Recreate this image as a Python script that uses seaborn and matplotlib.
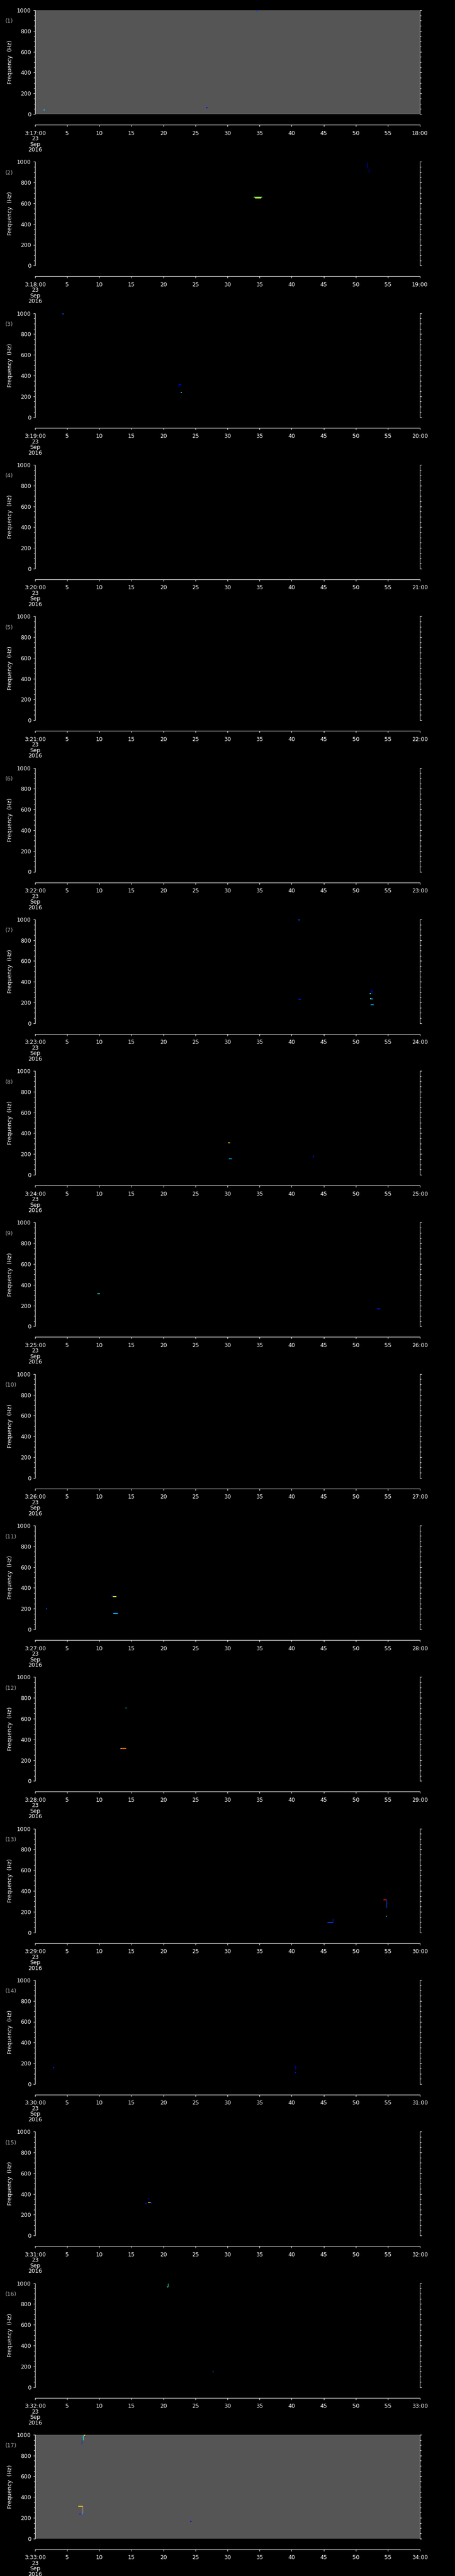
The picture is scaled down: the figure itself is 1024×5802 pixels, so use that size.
import matplotlib
matplotlib.use("Agg")
import matplotlib.pyplot as plt
from matplotlib.ticker import MultipleLocator
import seaborn as sns
import pandas as pd

# 17 one-minute spectrogram strips, 23 Sep 2016, 3:17 - 3:34
n_panels = 17
start_minutes = list(range(17, 34))
tick_seconds = list(range(0, 61, 5))
freq_ticks = [0, 200, 400, 600, 800, 1000]
no_data_panels = [1, 17]   # drawn on grey

# isolated pixels: panel, second, Hz, level (0-1 on the jet scale)
pt_panel = [1, 1, 1, 3, 7, 7, 7, 11, 11, 12, 12, 14, 14, 15, 15, 16, 17, 17, 17, 17, 17]
pt_time = [1.4, 26.8, 34.6, 22.8, 52.5, 52.3, 52.35, 1.8, 12.0, 13.4, 13.8, 2.9, 40.6,
           17.7, 17.3, 20.65, 7.7, 7.9, 7.0, 7.6, 24.3]
pt_freq = [41, 63, 994, 238, 308, 285, 237, 200, 322, 312, 312, 158, 111,
           356, 307, 963, 996, 987, 235, 236, 166]
pt_level = [0.3, 0.15, 0.2, 0.38, 0.1, 0.38, 0.5, 0.2, 0.1, 0.2, 0.9, 0.15, 0.15,
            0.1, 0.12, 0.65, 0.65, 0.12, 0.15, 0.2, 0.12]

# short vertical streaks: panel, second, Hz from, Hz to, level (-1 = grey trace)
vs_panel = [2, 2, 3, 7, 8, 12, 13, 13, 14, 15, 16, 16, 17, 17, 17]
vs_time = [51.8, 52.05, 22.35, 52.5, 43.3, 14.1, 54.8, 46.4, 40.6, 18.1, 20.7, 27.7, 7.47, 7.3, 7.4]
vs_f0 = [937, 894, 292, 285, 158, 700, 236, 93, 142, 305, 963, 142, 947, 910, 236]
vs_f1 = [995, 937, 316, 308, 180, 710, 313, 134, 180, 327, 997, 161, 997, 947, 316]
vs_level = [0.1, 0.1, 0.12, 0.1, 0.12, 0.35, 0.2, 0.15, 0.12, 0.12, 0.35, 0.25, 0.38, 0.15, -1]

# short horizontal streaks: panel, second from, second to, Hz, level
hs_panel = [2, 2, 3, 3, 7, 7, 7, 7, 8, 8, 8, 9, 9, 11, 11, 12, 13, 13, 13, 15, 17]
hs_t0 = [34.1, 34.3, 4.2, 22.4, 41.0, 41.1, 52.3, 52.3, 30.1, 30.2, 43.3, 9.7, 53.3,
         12.1, 12.2, 13.3, 54.3, 54.7, 45.6, 17.6, 6.75]
hs_t1 = [35.4, 35.3, 4.5, 22.8, 41.3, 41.4, 52.7, 52.8, 30.4, 30.7, 43.5, 10.1, 53.8,
         12.7, 12.9, 14.2, 54.8, 54.9, 46.4, 18.0, 7.4]
hs_freq = [660, 652, 994, 316, 994, 228, 235, 180, 310, 153, 180, 312, 168,
           315, 153, 312, 313, 157, 97, 315, 311]
hs_level = [0.5, 0.62, 0.2, 0.12, 0.2, 0.15, 0.3, 0.3, 0.7, 0.3, 0.15, 0.38, 0.15,
            0.62, 0.3, 0.75, 0.9, 0.35, 0.2, 0.7, 0.7]

points = pd.DataFrame({"panel": pt_panel, "time": pt_time, "freq": pt_freq, "level": pt_level})
vstreaks = pd.DataFrame({"panel": vs_panel, "time": vs_time, "f0": vs_f0, "f1": vs_f1, "level": vs_level})
hstreaks = pd.DataFrame({"panel": hs_panel, "t0": hs_t0, "t1": hs_t1, "freq": hs_freq, "level": hs_level})

sns.set_style("dark", {"axes.facecolor": "black", "figure.facecolor": "black",
                       "axes.grid": False, "axes.edgecolor": "white"})
plt.rcParams["font.family"] = ["DejaVu Sans"]

W, H = 1024, 5802
fig = plt.figure(figsize=(W / 100, H / 100), dpi=100)
fig.patch.set_facecolor("black")
cmap = matplotlib.colormaps["jet"]


def level_color(v):
    return "#a8a8a8" if v < 0 else cmap(v)


for k in range(n_panels):
    num = k + 1
    top = 23 + k * 341.3
    ax = fig.add_axes([79 / W, 1 - (top + 234) / H, 866 / W, 234 / H])
    ax.set_facecolor("#555555" if num in no_data_panels else "black")

    sub = points[points.panel == num]
    if len(sub):
        sns.scatterplot(data=sub, x="time", y="freq", hue="level", palette=cmap,
                        hue_norm=(0, 1), marker="s", s=4, linewidth=0,
                        legend=False, ax=ax)
    for _, r in vstreaks[vstreaks.panel == num].iterrows():
        ax.vlines(r.time, r.f0, r.f1, colors=[level_color(r.level)], linewidth=0.8)
    for _, r in hstreaks[hstreaks.panel == num].iterrows():
        ax.hlines(r.freq, r.t0, r.t1, colors=[level_color(r.level)], linewidth=1.3)

    ax.set_xlim(0, 60)
    ax.set_ylim(0, 1000)

    ax.spines["top"].set_visible(False)
    ax.spines["bottom"].set_position(("outward", 17.3))
    for s in ("left", "right", "bottom"):
        ax.spines[s].set_color("white")
        ax.spines[s].set_linewidth(0.8)

    ax.set_yticks(freq_ticks)
    ax.set_yticklabels([str(v) for v in freq_ticks])
    ax.yaxis.set_minor_locator(MultipleLocator(50))
    ax.tick_params(axis="y", which="both", direction="out", left=True, right=True,
                   colors="white", labelsize=9, width=0.8, pad=3.5)
    ax.tick_params(axis="y", which="major", length=3)
    ax.tick_params(axis="y", which="minor", length=2)

    labels = [str(s) for s in tick_seconds]
    labels[0] = f"3:{start_minutes[k]}:00\n23\nSep\n2016"
    labels[-1] = f"{start_minutes[k] + 1}:00"
    ax.set_xticks(tick_seconds)
    ax.set_xticklabels(labels)
    ax.tick_params(axis="x", which="both", direction="out", bottom=True,
                   colors="white", labelsize=9, length=3, width=0.8, pad=6)
    ax.get_xticklabels()[0].set_linespacing(0.95)

    ax.set_xlabel("")
    ax.set_ylabel("Frequency  (Hz)", color="white", fontsize=9, va="center")
    ax.yaxis.set_label_coords(-0.065, 0.5)

    fig.text(12 / W, 1 - (top + 25) / H, f"({num})", color="#aaaaaa",
             ha="left", va="center", fontsize=9)

fig.savefig("out.png", dpi=100, facecolor="black")
